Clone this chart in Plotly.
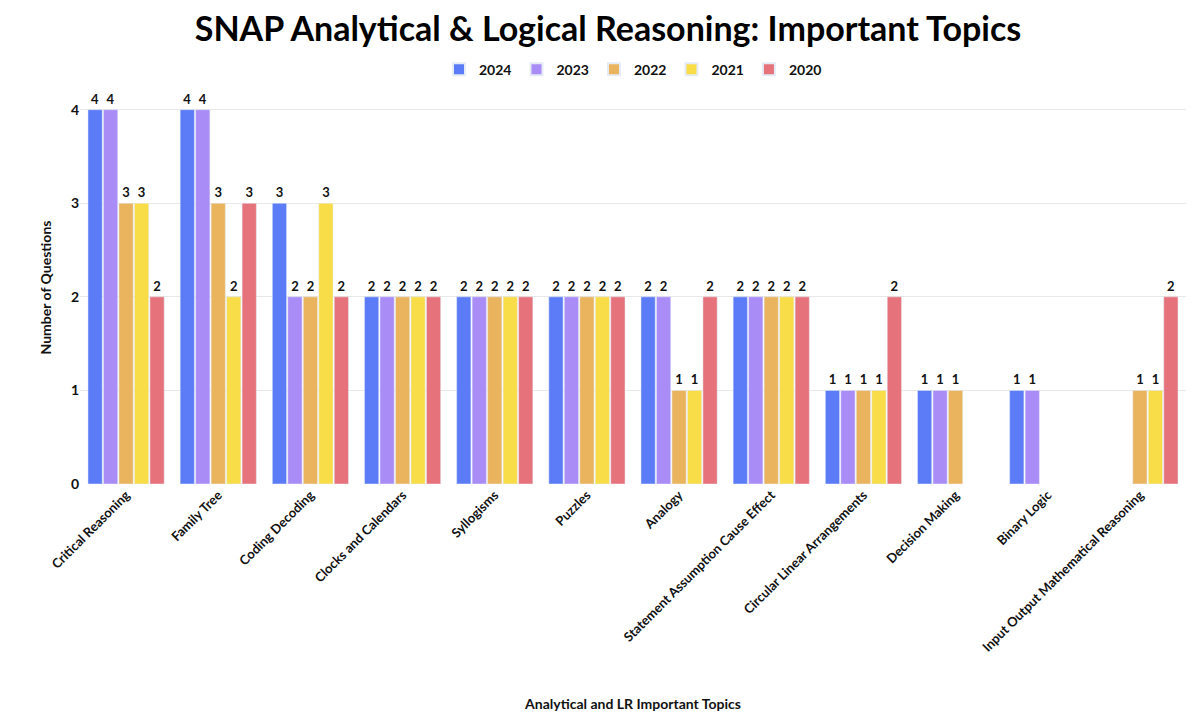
import plotly.graph_objects as go

topics = ["Critical Reasoning", "Family Tree", "Coding Decoding", "Clocks and Calendars",
          "Syllogisms", "Puzzles", "Analogy", "Statement Assumption Cause Effect",
          "Circular Linear Arrangements", "Decision Making", "Binary Logic",
          "Input Output Mathematical Reasoning"]
years = ["2024", "2023", "2022", "2021", "2020"]
v2024 = [4, 4, 3, 2, 2, 2, 2, 2, 1, 1, 1, None]
v2023 = [4, 4, 2, 2, 2, 2, 2, 2, 1, 1, 1, None]
v2022 = [3, 3, 2, 2, 2, 2, 1, 2, 1, 1, None, 1]
v2021 = [3, 2, 3, 2, 2, 2, 1, 2, 1, None, None, 1]
v2020 = [2, 3, 2, 2, 2, 2, 2, 2, 2, None, None, 2]
series = [v2024, v2023, v2022, v2021, v2020]
colors = ["#5b7cf6", "#a98cf6", "#eab45f", "#f8dc48", "#e6737b"]

fig = go.Figure()
for name, vals, c in zip(years, series, colors):
    fig.add_trace(go.Bar(
        x=topics, y=vals, name=name, marker_color=c,
        text=[str(v) if v is not None else "" for v in vals],
        textposition="outside", cliponaxis=False,
        textfont=dict(size=13, color="#111", family="Lato", weight="bold"),
    ))

fig.update_layout(
    title=dict(text="<b>SNAP Analytical & Logical Reasoning: Important Topics</b>",
               x=0.5, y=0.97, xanchor="center", yanchor="middle",
               font=dict(size=34, color="#000", family="Lato")),
    barmode="group", bargap=0.16, bargroupgap=0.08,
    width=1200, height=716,
    margin=dict(l=72, r=22, t=83, b=240, autoexpand=False),
    plot_bgcolor="white", paper_bgcolor="white",
    font=dict(family="Lato", color="#111"),
    legend=dict(orientation="h", x=0.5, xanchor="center", yref="container", y=0.914, yanchor="middle",
                font=dict(size=14, weight="bold"), itemsizing="constant"),
    yaxis=dict(range=[0, 4.2], dtick=1, gridcolor="#e8e8e8", zeroline=False,
               tickfont=dict(size=14, weight="bold"),
               title=dict(text="Number of Questions", font=dict(size=14, weight="bold"))),
    xaxis=dict(tickangle=-45, tickfont=dict(size=13, weight="bold"),
               title=dict(text="Analytical and LR Important Topics", standoff=45,
                          font=dict(size=14, weight="bold"))),
)
fig.write_html("out.html")
